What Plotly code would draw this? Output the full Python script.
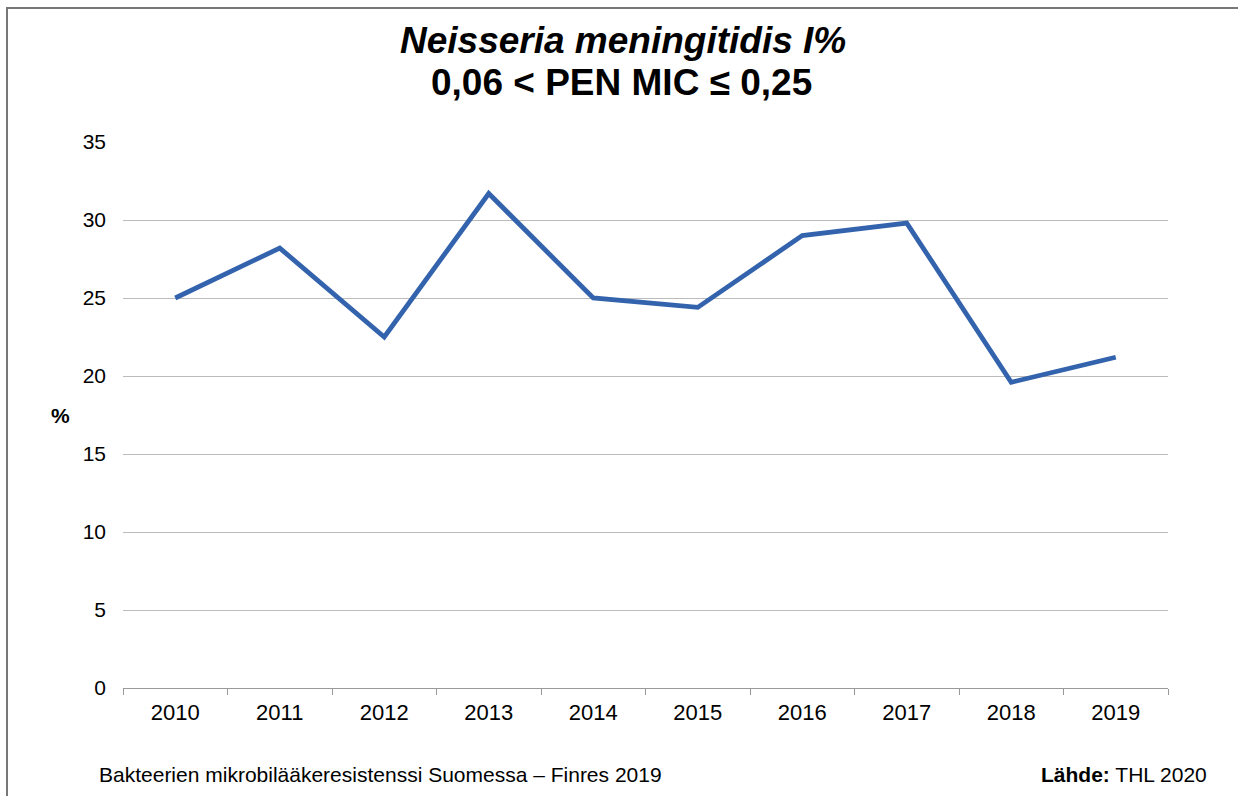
import plotly.graph_objects as go

years = ["2010", "2011", "2012", "2013", "2014", "2015", "2016", "2017", "2018", "2019"]
values = [25.0, 28.2, 22.5, 31.7, 25.0, 24.4, 29.0, 29.8, 19.6, 21.2]
y_ticks = [0, 5, 10, 15, 20, 25, 30, 35]

W, H = 1238, 796
L, R, T, B = 123, 1168, 142, 688

def px_x(x):
    return (x - L) / (R - L)

def px_y(y):
    return (B - y) / (B - T)

fig = go.Figure()
fig.add_trace(go.Scatter(
    x=years, y=values, mode="lines",
    line=dict(color="#3463AD", width=4.8),
    hoverinfo="x+y", showlegend=False,
))

FONT = "Liberation Sans, Arial, sans-serif"

fig.update_layout(
    width=W, height=H,
    margin=dict(l=L, r=W - R, t=T, b=H - B),
    paper_bgcolor="white", plot_bgcolor="white",
    font=dict(family=FONT, color="#000000"),
    xaxis=dict(
        type="category", tickson="boundaries",
        range=[-0.5, len(years) - 0.5],
        ticks="outside", ticklen=6, tickcolor="#999999", tickwidth=1,
        showline=True, linecolor="#999999", linewidth=1,
        showgrid=False, zeroline=False,
        tickfont=dict(size=22, family=FONT, color="#000000"),
        ticklabelstandoff=5,
    ),
    yaxis=dict(
        range=[0, 35], tickvals=y_ticks,
        showgrid=True, gridcolor="#BBBBBB", gridwidth=1,
        zeroline=False, showline=False, ticks="",
        tickfont=dict(size=21, family=FONT, color="#000000"),
        ticklabelstandoff=16,
    ),
    shapes=[dict(
        type="rect", xref="paper", yref="paper",
        x0=px_x(7), x1=px_x(1245), y0=px_y(805), y1=px_y(8),
        line=dict(color="#777777", width=2), fillcolor="rgba(0,0,0,0)",
        layer="below",
    )],
    annotations=[
        dict(text="<b><i>Neisseria meningitidis I%</i></b>",
             xref="paper", yref="paper", x=px_x(623), y=px_y(40),
             xanchor="center", yanchor="middle", showarrow=False,
             font=dict(size=37, family=FONT)),
        dict(text="<b>0,06 &lt; PEN MIC ≤ 0,25</b>",
             xref="paper", yref="paper", x=px_x(621), y=px_y(83),
             xanchor="center", yanchor="middle", showarrow=False,
             font=dict(size=37, family=FONT)),
        dict(text="<b>%</b>",
             xref="paper", yref="paper", x=px_x(60), y=px_y(415),
             xanchor="center", yanchor="middle", showarrow=False,
             font=dict(size=21, family=FONT)),
        dict(text="Bakteerien mikrobilääkeresistenssi Suomessa – Finres 2019",
             xref="paper", yref="paper", x=px_x(97), y=px_y(775),
             xanchor="left", yanchor="middle", showarrow=False,
             font=dict(size=21, family=FONT)),
        dict(text="<b>Lähde:</b> THL 2020",
             xref="paper", yref="paper", x=px_x(1209), y=px_y(775),
             xanchor="right", yanchor="middle", showarrow=False,
             font=dict(size=21, family=FONT)),
    ],
)

fig.write_html(
    "out.html",
    config={"displayModeBar": False},
    post_script="document.body.style.margin='0px';document.body.style.overflow='hidden';",
)
